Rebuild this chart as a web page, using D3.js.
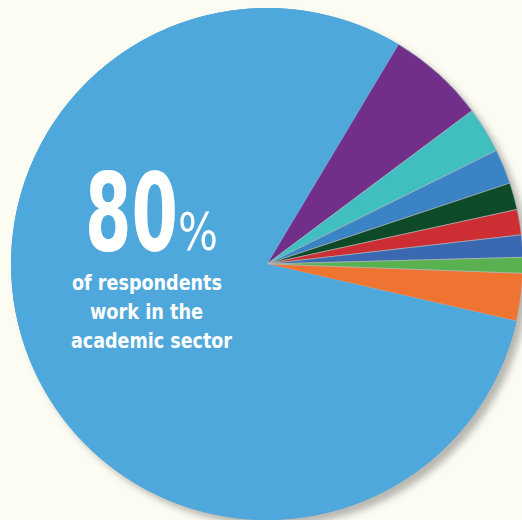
<!DOCTYPE html>
<html>
<head>
<meta charset="utf-8">
<script src="https://cdn.jsdelivr.net/npm/d3@7"></script>
<style>
  html, body { margin: 0; padding: 0; background: #fcfcf3; }
  svg { display: block; }
</style>
</head>
<body>
<div id="chart"></div>
<script>
// sectors, in clockwise order starting at the purple one
var sectors = ['Other 1', 'Other 2', 'Other 3', 'Other 4', 'Other 5', 'Other 6', 'Other 7', 'Other 8', 'Academic'];
var shares = [6.2, 2.9, 2.2, 1.7, 1.6, 1.4, 1.0, 3.0, 80];
var colors = ['#712f8a', '#41bfc0', '#3a83c5', '#0e4a27', '#cc2e33', '#3a68b1', '#59b14f', '#ef7431', '#4fa8dc'];
var headline = '80';
var captionLines = ['of respondents', 'work in the', 'academic sector'];

var width = 522, height = 520;
var cx = 267, cy = 264, radius = 256;

var svg = d3.select('#chart').append('svg')
  .attr('width', width)
  .attr('height', height);

svg.append('rect')
  .attr('width', width).attr('height', height)
  .attr('fill', '#fcfcf3');

var defs = svg.append('defs');
var shadow = defs.append('filter')
  .attr('id', 'shadow')
  .attr('x', '-10%').attr('y', '-10%')
  .attr('width', '130%').attr('height', '130%');
shadow.append('feDropShadow')
  .attr('dx', 6).attr('dy', 6)
  .attr('stdDeviation', 3.5)
  .attr('flood-color', '#8a8985')
  .attr('flood-opacity', 0.6);

var pie = d3.pie()
  .sort(null)
  .startAngle(30.9 * Math.PI / 180)
  .endAngle(30.9 * Math.PI / 180 + 2 * Math.PI)
  .value(function(d) { return d; });

var arc = d3.arc().innerRadius(0).outerRadius(radius);

var g = svg.append('g')
  .attr('transform', 'translate(' + cx + ',' + cy + ')');

// shadow behind the whole disc
g.append('circle')
  .attr('r', radius)
  .attr('fill', '#4fa8dc')
  .attr('filter', 'url(#shadow)');

g.selectAll('path.slice')
  .data(pie(shares))
  .enter()
  .append('path')
    .attr('class', 'slice')
    .attr('d', arc)
    .attr('fill', function(d, i) { return colors[i]; })
    .attr('stroke', function(d, i) { return i === shares.length - 1 ? 'none' : '#b9bcc0'; })
    .attr('stroke-width', 0.6);

// headline text: big number plus a lighter percent sign
var font = '"Liberation Sans Narrow", "DejaVu Sans Condensed", "Liberation Sans", sans-serif';

var big = svg.append('text')
  .attr('x', 85)
  .attr('y', 250)
  .attr('font-family', font)
  .attr('fill', '#ffffff');

big.append('tspan')
  .attr('font-weight', 'bold')
  .attr('font-size', 108)
  .attr('textLength', 93)
  .attr('lengthAdjust', 'spacingAndGlyphs')
  .text(headline);

big.append('tspan')
  .attr('x', 178)
  .attr('font-size', 52)
  .attr('textLength', 40)
  .attr('lengthAdjust', 'spacingAndGlyphs')
  .text('%');

var lineX = [72, 90, 71];
var lineW = [150, 113, 161];
var lineY = [290, 319, 348];

svg.selectAll('text.caption')
  .data(captionLines)
  .enter()
  .append('text')
    .attr('class', 'caption')
    .attr('x', function(d, i) { return lineX[i]; })
    .attr('y', function(d, i) { return lineY[i]; })
    .attr('font-family', font)
    .attr('font-weight', 'bold')
    .attr('font-size', 21)
    .attr('fill', '#ffffff')
    .attr('textLength', function(d, i) { return lineW[i]; })
    .attr('lengthAdjust', 'spacingAndGlyphs')
    .text(function(d) { return d; });
</script>
</body>
</html>
